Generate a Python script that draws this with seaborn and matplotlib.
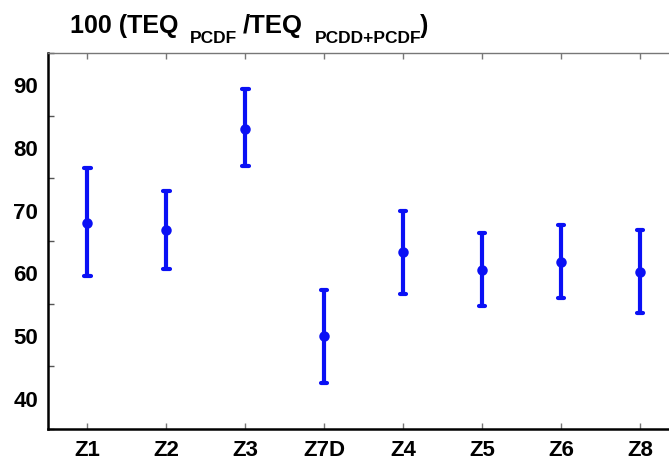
import matplotlib
matplotlib.use("Agg")
import matplotlib.pyplot as plt
import seaborn as sns
import pandas as pd
from matplotlib.ticker import MultipleLocator

categories = ["Z1", "Z2", "Z3", "Z7D", "Z4", "Z5", "Z6", "Z8"]
means = [67.8, 66.8, 82.9, 49.8, 63.2, 60.4, 61.7, 60.0]
lowers = [59.4, 60.5, 77.0, 42.4, 56.6, 54.6, 55.9, 53.5]
uppers = [76.7, 73.0, 89.2, 57.2, 69.8, 66.2, 67.5, 66.8]

rows = []
for c, m, lo, hi in zip(categories, means, lowers, uppers):
    for v in (lo, m, hi):
        rows.append({"zone": c, "value": v})
df = pd.DataFrame(rows)

sns.set_style("white")
plt.rcParams["font.family"] = ["Liberation Sans", "DejaVu Sans"]
plt.rcParams["text.color"] = "black"
plt.rcParams["xtick.labelcolor"] = "black"
plt.rcParams["ytick.labelcolor"] = "black"

fig = plt.figure(figsize=(6.69, 4.6), dpi=100)
W, H = 669, 460
left_px, right_px, top_px, bot_px = 48, 679.5, 54, 430
ax = fig.add_axes([left_px / W, (H - bot_px) / H, (right_px - left_px) / W, (bot_px - top_px) / H])

sns.pointplot(data=df, x="zone", y="value", order=categories, estimator="median",
              errorbar=("pi", 100), color="#0a10f5", linestyle="none",
              markers="o", markersize=5.5, err_kws={"linewidth": 3},
              capsize=0.08, ax=ax)

ax.set_xlim(-0.5, 7.5)
ax.set_ylim(35, 95)
ax.yaxis.set_minor_locator(MultipleLocator(5))
ax.set_yticks([40, 50, 60, 70, 80, 90])
ax.set_xlabel("")
ax.set_ylabel("")

for s in ["left", "bottom"]:
    ax.spines[s].set_visible(True)
    ax.spines[s].set_color("black")
    ax.spines[s].set_linewidth(1.8)
ax.spines["top"].set_visible(True)
ax.spines["top"].set_color("#777777")
ax.spines["top"].set_linewidth(1.0)
ax.spines["right"].set_visible(False)

ax.tick_params(axis="y", which="major", direction="in", length=5, width=1, color="#555555",
               labelsize=16, pad=7, labelcolor="black")
ax.tick_params(axis="y", which="minor", direction="in", length=4, width=1, color="#555555", left=True)
ax.tick_params(axis="x", which="major", direction="in", length=4, width=1, color="#777777",
               labelsize=16, pad=7, top=True, bottom=True, labelcolor="black")
for lab in ax.get_xticklabels() + ax.get_yticklabels():
    lab.set_fontweight("bold")

# Title with subscripts, built from pieces
title_parts = [("100 (TEQ", 70, 18, 33), ("PCDF", 190, 12.5, 43), ("/TEQ", 243, 18.5, 33),
               ("PCDD+PCDF", 315, 12.5, 43), (")", 420, 18, 33)]
for txt, xp, fs, base in title_parts:
    fig.text(xp / W, 1 - base / H, txt, fontsize=fs, fontweight="bold",
             ha="left", va="baseline", color="black")

fig.savefig("out.png", dpi=100, facecolor="white")
